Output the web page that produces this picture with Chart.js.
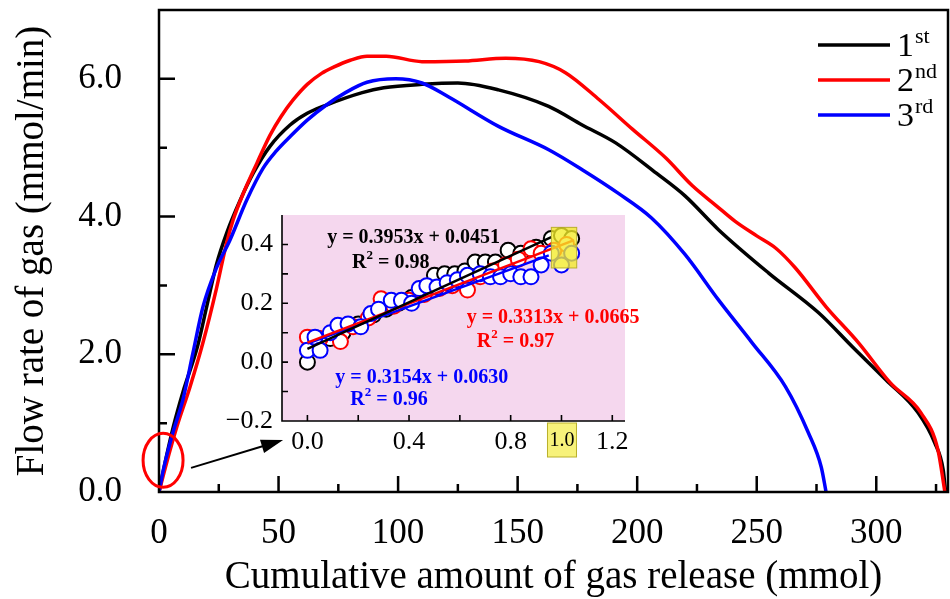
<!DOCTYPE html>
<html>
<head>
<meta charset="utf-8">
<script src="https://cdn.jsdelivr.net/npm/chart.js@4.4.1/dist/chart.umd.min.js"></script>
<style>
  html, body { margin: 0; padding: 0; background: #fff; }
  #wrap { position: relative; width: 950px; height: 599px; }
  #main { position: absolute; left: 0; top: 0; }
  #inset { position: absolute; left: 220px; top: 205px; }
</style>
</head>
<body>
<div id="wrap">
  <canvas id="main" width="950" height="599"></canvas>
  <canvas id="inset" width="430" height="256"></canvas>
</div>
<script>
// main curves: cumulative gas (mmol) vs flow rate (mmol/min)
var firstX  = [0, 3, 6, 10, 16, 20, 24, 28.3, 34, 39.4, 46.4, 54.8, 62, 70, 85, 94, 110, 125, 142, 163, 177, 191, 208, 220, 234, 255, 276, 290, 304, 317.5, 324.5, 328, 329];
var firstY  = [0, 0.5, 0.95, 1.45, 2.1, 2.7, 3.3, 3.76, 4.24, 4.63, 5.02, 5.33, 5.5, 5.62, 5.8, 5.87, 5.92, 5.94, 5.84, 5.6, 5.33, 5.07, 4.63, 4.3, 3.81, 3.18, 2.6, 2.11, 1.63, 1.15, 0.71, 0.32, 0];
var secondX = [0, 3, 7.5, 13, 18.4, 24, 28.3, 31, 35.3, 41, 46.4, 51, 56, 62, 68, 73, 80, 87, 95, 110, 128, 145, 159, 170, 184, 198, 212, 223, 233, 241, 250, 258, 266, 279, 292.5, 306, 318.7, 325.8, 328.7];
var secondY = [0, 0.4, 0.95, 1.53, 2.17, 2.95, 3.62, 3.95, 4.34, 4.78, 5.18, 5.45, 5.69, 5.92, 6.08, 6.17, 6.27, 6.33, 6.33, 6.25, 6.26, 6.3, 6.25, 6.09, 5.7, 5.27, 4.85, 4.45, 4.16, 3.93, 3.72, 3.54, 3.26, 2.69, 2.17, 1.58, 1.15, 0.61, 0];
var thirdX  = [0, 2, 5.8, 10, 14.2, 18.4, 24, 29.7, 36.7, 43.5, 49, 54.8, 62, 70, 78, 87, 99, 110, 121, 142, 163, 177, 192, 206, 220, 234, 248, 262, 271.6, 277, 279];
var thirdY  = [0, 0.35, 0.86, 1.34, 2.02, 2.69, 3.25, 3.66, 4.24, 4.7, 4.95, 5.16, 5.4, 5.62, 5.8, 5.95, 6.0, 5.94, 5.74, 5.31, 4.97, 4.68, 4.34, 3.98, 3.45, 2.79, 2.17, 1.53, 0.86, 0.36, 0];
var mainXTicks = [0, 50, 100, 150, 200, 250, 300];
var mainYTicks = [0, 2, 4, 6];
var legendMain = ["1", "2", "3"];
var legendSup  = ["st", "nd", "rd"];

// inset: first ~1 mmol of each run
var insetFirstX  = [0.00, 0.04, 0.09, 0.14, 0.20, 0.26, 0.31, 0.36, 0.41, 0.45, 0.50, 0.54, 0.58, 0.62, 0.66, 0.70, 0.74, 0.79, 0.84, 0.90, 0.96, 1.00, 1.04];
var insetFirstY  = [0.00, 0.06, 0.08, 0.10, 0.13, 0.16, 0.18, 0.20, 0.22, 0.25, 0.295, 0.30, 0.30, 0.31, 0.34, 0.34, 0.34, 0.38, 0.37, 0.39, 0.42, 0.43, 0.42];
var insetSecondX = [0.00, 0.05, 0.13, 0.18, 0.24, 0.29, 0.34, 0.40, 0.46, 0.52, 0.57, 0.63, 0.68, 0.73, 0.78, 0.83, 0.88, 0.92, 0.97, 1.02];
var insetSecondY = [0.085, 0.08, 0.07, 0.12, 0.15, 0.215, 0.19, 0.21, 0.23, 0.25, 0.26, 0.245, 0.29, 0.31, 0.33, 0.35, 0.385, 0.37, 0.38, 0.40];
var insetThirdX  = [0.00, 0.03, 0.05, 0.09, 0.12, 0.16, 0.21, 0.25, 0.28, 0.33, 0.37, 0.41, 0.44, 0.47, 0.51, 0.55, 0.59, 0.63, 0.68, 0.72, 0.76, 0.80, 0.84, 0.88, 0.92, 0.96, 1.00, 1.04];
var insetThirdY  = [0.04, 0.085, 0.04, 0.10, 0.125, 0.13, 0.12, 0.165, 0.18, 0.21, 0.21, 0.20, 0.25, 0.26, 0.255, 0.27, 0.28, 0.295, 0.30, 0.29, 0.29, 0.30, 0.29, 0.29, 0.33, 0.37, 0.33, 0.37];
var fitSlope     = [0.3953, 0.3313, 0.3154];
var fitIntercept = [0.0451, 0.0665, 0.0630];
var fitR2        = ["0.98", "0.97", "0.96"];
var fitEnd       = [0.96, 1.05, 0.95];
var insetXTicks = [0, 0.4, 0.8, 1.2];
var insetYTicks = [-0.2, 0, 0.2, 0.4];

var colors = ["#000000", "#ff0000", "#0000ff"];
var serif = "'Liberation Serif', 'Times New Roman', serif";

function pts(xs, ys) {
  return xs.map(function (x, i) { return { x: x, y: ys[i] }; });
}

// fixed axis boxes so the plot area lands where the original has it
function fixWidth(w) {
  return function (s) { s.width = w; s.paddingTop = 0; s.paddingBottom = 0; };
}
function fixHeight(h) {
  return function (s) { s.height = h; s.paddingLeft = 0; s.paddingRight = 0; };
}

// frame, inward ticks, legend, ellipse + arrow
var mainDecor = {
  id: "mainDecor",
  afterDatasetsDraw: function (chart) {
    var ctx = chart.ctx, a = chart.chartArea;
    var sx = chart.scales.x, sy = chart.scales.y;
    ctx.save();
    ctx.strokeStyle = "#000";
    ctx.lineWidth = 2.5;
    ctx.strokeRect(a.left, a.top, a.right - a.left, a.bottom - a.top);
    ctx.beginPath();
    for (var v = 25; v < sx.max; v += 25) {
      var px = sx.getPixelForValue(v);
      var len = v % 50 === 0 ? 16 : 8;
      ctx.moveTo(px, a.bottom);
      ctx.lineTo(px, a.bottom - len);
    }
    for (var w = 1; w < sy.max; w += 1) {
      var py = sy.getPixelForValue(w);
      var l2 = w % 2 === 0 ? 16 : 8;
      ctx.moveTo(a.left, py);
      ctx.lineTo(a.left + l2, py);
    }
    ctx.stroke();

    // legend
    for (var i = 0; i < 3; i++) {
      var ly = a.top + 35 + i * 35;
      ctx.strokeStyle = colors[i];
      ctx.lineWidth = 3.5;
      ctx.beginPath();
      ctx.moveTo(a.right - 130, ly);
      ctx.lineTo(a.right - 58, ly);
      ctx.stroke();
      ctx.fillStyle = "#000";
      ctx.textBaseline = "alphabetic";
      ctx.textAlign = "left";
      ctx.font = "34px " + serif;
      ctx.fillText(legendMain[i], a.right - 51, ly + 11);
      var mw = ctx.measureText(legendMain[i]).width;
      ctx.font = "22px " + serif;
      ctx.fillText(legendSup[i], a.right - 51 + mw + 1, ly - 2);
    }

    // red ellipse round the origin and arrow to the inset
    var ex = sx.getPixelForValue(1.7), ey = sy.getPixelForValue(0.46);
    ctx.strokeStyle = "#ff0000";
    ctx.lineWidth = 3;
    ctx.beginPath();
    ctx.ellipse(ex, ey, 20, 27, 0, 0, Math.PI * 2);
    ctx.stroke();

    var x0 = sx.getPixelForValue(13.4), y0 = sy.getPixelForValue(0.35);
    var x1 = sx.getPixelForValue(51.9), y1 = sy.getPixelForValue(0.755);
    var ang = Math.atan2(y1 - y0, x1 - x0);
    ctx.strokeStyle = "#000";
    ctx.fillStyle = "#000";
    ctx.lineWidth = 2;
    ctx.beginPath();
    ctx.moveTo(x0, y0);
    ctx.lineTo(x1 - 18 * Math.cos(ang), y1 - 18 * Math.sin(ang));
    ctx.stroke();
    ctx.beginPath();
    ctx.moveTo(x1, y1);
    ctx.lineTo(x1 - 22 * Math.cos(ang) + 7 * Math.sin(ang), y1 - 22 * Math.sin(ang) - 7 * Math.cos(ang));
    ctx.lineTo(x1 - 22 * Math.cos(ang) - 7 * Math.sin(ang), y1 - 22 * Math.sin(ang) + 7 * Math.cos(ang));
    ctx.closePath();
    ctx.fill();
    ctx.restore();
  }
};

var curveStyle = function (label, xs, ys, c, ord) {
  return {
    label: label, data: pts(xs, ys), showLine: true, borderColor: c,
    backgroundColor: c, borderWidth: 3.5, pointRadius: 0, fill: false,
    cubicInterpolationMode: "monotone", order: ord
  };
};

new Chart(document.getElementById("main"), {
  type: "scatter",
  data: {
    datasets: [
      curveStyle("1st", firstX, firstY, colors[0], 3),
      curveStyle("2nd", secondX, secondY, colors[1], 2),
      curveStyle("3rd", thirdX, thirdY, colors[2], 1)
    ]
  },
  options: {
    responsive: false,
    animation: false,
    layout: { padding: { top: 10, right: 2, left: 0, bottom: 0 } },
    plugins: { legend: { display: false }, tooltip: { enabled: false } },
    scales: {
      x: {
        type: "linear", min: 0, max: 330,
        afterFit: fixHeight(107),
        afterBuildTicks: function (s) { s.ticks = mainXTicks.map(function (v) { return { value: v }; }); },
        grid: { display: false, drawTicks: false },
        border: { display: false },
        ticks: {
          autoSkip: false, maxRotation: 0, padding: 21, color: "#000",
          font: { family: serif, size: 35 },
          callback: function (v) { return String(v); }
        },
        title: {
          display: true, text: "Cumulative amount of gas release (mmol)", color: "#000",
          font: { family: serif, size: 39, lineHeight: 1 }, padding: { top: 0, bottom: 2 }
        }
      },
      y: {
        type: "linear", min: 0, max: 7,
        afterFit: fixWidth(159),
        afterBuildTicks: function (s) { s.ticks = mainYTicks.map(function (v) { return { value: v }; }); },
        grid: { display: false, drawTicks: false },
        border: { display: false },
        ticks: {
          autoSkip: false, padding: 37, color: "#000",
          font: { family: serif, size: 35 },
          callback: function (v) { return Number(v).toFixed(1); }
        },
        title: {
          display: true, text: "Flow rate of gas (mmol/min)", color: "#000",
          font: { family: serif, size: 39, lineHeight: 1 }, padding: { top: 13, bottom: 0 }
        }
      }
    }
  },
  plugins: [mainDecor]
});

// inset
var insetDecor = {
  id: "insetDecor",
  beforeDatasetsDraw: function (chart) {
    var ctx = chart.ctx, a = chart.chartArea;
    ctx.save();
    ctx.fillStyle = "#f5d7ee";
    ctx.fillRect(a.left, a.top, a.right - a.left, a.bottom - a.top);
    ctx.restore();
  },
  afterDatasetsDraw: function (chart) {
    var ctx = chart.ctx, a = chart.chartArea;
    var sx = chart.scales.x, sy = chart.scales.y;
    ctx.save();
    // highlight box at x = 1.0
    var bx0 = sx.getPixelForValue(0.96), bx1 = sx.getPixelForValue(1.06);
    var by0 = sy.getPixelForValue(0.458), by1 = sy.getPixelForValue(0.32);
    ctx.fillStyle = "rgba(243, 236, 40, 0.78)";
    ctx.fillRect(bx0, by0, bx1 - bx0, by1 - by0);
    ctx.strokeStyle = "#b9b02a";
    ctx.lineWidth = 1;
    ctx.strokeRect(bx0, by0, bx1 - bx0, by1 - by0);

    // axes
    ctx.strokeStyle = "#000";
    ctx.lineWidth = 1.6;
    ctx.beginPath();
    ctx.moveTo(a.left, a.top);
    ctx.lineTo(a.left, a.bottom);
    ctx.lineTo(a.right, a.bottom);
    for (var v = 0; v <= 1.21; v += 0.2) {
      var px = sx.getPixelForValue(v);
      ctx.moveTo(px, a.bottom);
      ctx.lineTo(px, a.bottom - 6);
    }
    for (var w = -0.1; w <= 0.41; w += 0.1) {
      var py = sy.getPixelForValue(w);
      ctx.moveTo(a.left, py);
      ctx.lineTo(a.left + 6, py);
    }
    ctx.stroke();

    // "1.0" tick label in yellow box
    var tx = sx.getPixelForValue(1.0);
    ctx.fillStyle = "#f7f27a";
    ctx.fillRect(tx - 14, a.bottom + 2, 29, 34);
    ctx.strokeStyle = "#b9b02a";
    ctx.lineWidth = 1;
    ctx.strokeRect(tx - 14, a.bottom + 2, 29, 34);
    ctx.fillStyle = "#000";
    ctx.font = "20px " + serif;
    ctx.textAlign = "center";
    ctx.textBaseline = "middle";
    ctx.fillText("1.0", tx + 0.5, a.bottom + 20);

    // fit equations
    var eqPos = [[0.078, 0.424, 0.176, 0.339], [0.627, 0.149, 0.667, 0.068], [0.11, -0.054, 0.169, -0.129]];
    ctx.textAlign = "left";
    for (var i = 0; i < 3; i++) {
      var p = eqPos[i];
      ctx.fillStyle = colors[i];
      ctx.font = "bold 20px " + serif;
      ctx.textBaseline = "middle";
      var eq = "y = " + fitSlope[i].toFixed(4) + "x + " + fitIntercept[i].toFixed(4);
      ctx.fillText(eq, sx.getPixelForValue(p[0]), sy.getPixelForValue(p[1]));
      var rx = sx.getPixelForValue(p[2]), ry = sy.getPixelForValue(p[3]);
      ctx.fillText("R", rx, ry);
      var rw = ctx.measureText("R").width;
      ctx.font = "bold 13px " + serif;
      ctx.fillText("2", rx + rw, ry - 7);
      var sw = ctx.measureText("2").width;
      ctx.font = "bold 20px " + serif;
      ctx.fillText(" = " + fitR2[i], rx + rw + sw, ry);
    }
    ctx.restore();
  }
};

function fitLine(i) {
  return [
    { x: 0, y: fitIntercept[i] },
    { x: fitEnd[i], y: fitSlope[i] * fitEnd[i] + fitIntercept[i] }
  ];
}

function markers(xs, ys, c, ord) {
  return {
    data: pts(xs, ys), pointRadius: 7.5, pointBorderWidth: 2,
    pointBackgroundColor: "#ffffff", pointBorderColor: c, showLine: false, order: ord
  };
}

new Chart(document.getElementById("inset"), {
  type: "scatter",
  data: {
    datasets: [
      { data: fitLine(0), showLine: true, borderColor: colors[0], borderWidth: 2.5, pointRadius: 0, order: 0 },
      { data: fitLine(1), showLine: true, borderColor: colors[1], borderWidth: 2.5, pointRadius: 0, order: 1 },
      { data: fitLine(2), showLine: true, borderColor: colors[2], borderWidth: 2.5, pointRadius: 0, order: 2 },
      markers(insetThirdX, insetThirdY, colors[2], 3),
      markers(insetSecondX, insetSecondY, colors[1], 4),
      markers(insetFirstX, insetFirstY, colors[0], 5)
    ]
  },
  options: {
    responsive: false,
    animation: false,
    layout: { padding: { top: 10, right: 25, left: 0, bottom: 0 } },
    plugins: { legend: { display: false }, tooltip: { enabled: false } },
    scales: {
      x: {
        type: "linear", min: -0.1, max: 1.25,
        afterFit: fixHeight(40),
        afterBuildTicks: function (s) { s.ticks = insetXTicks.map(function (v) { return { value: v }; }); },
        grid: { display: false, drawTicks: false },
        border: { display: false },
        ticks: {
          autoSkip: false, maxRotation: 0, padding: 6, color: "#000",
          font: { family: serif, size: 26 },
          callback: function (v) { return Number(v).toFixed(1); }
        }
      },
      y: {
        type: "linear", min: -0.2, max: 0.5,
        afterFit: fixWidth(62),
        afterBuildTicks: function (s) { s.ticks = insetYTicks.map(function (v) { return { value: v }; }); },
        grid: { display: false, drawTicks: false },
        border: { display: false },
        ticks: {
          autoSkip: false, padding: 9, color: "#000",
          font: { family: serif, size: 26 },
          callback: function (v) { return (v < 0 ? "\u2212" : "") + Math.abs(v).toFixed(1); }
        }
      }
    }
  },
  plugins: [insetDecor]
});
</script>
</body>
</html>
